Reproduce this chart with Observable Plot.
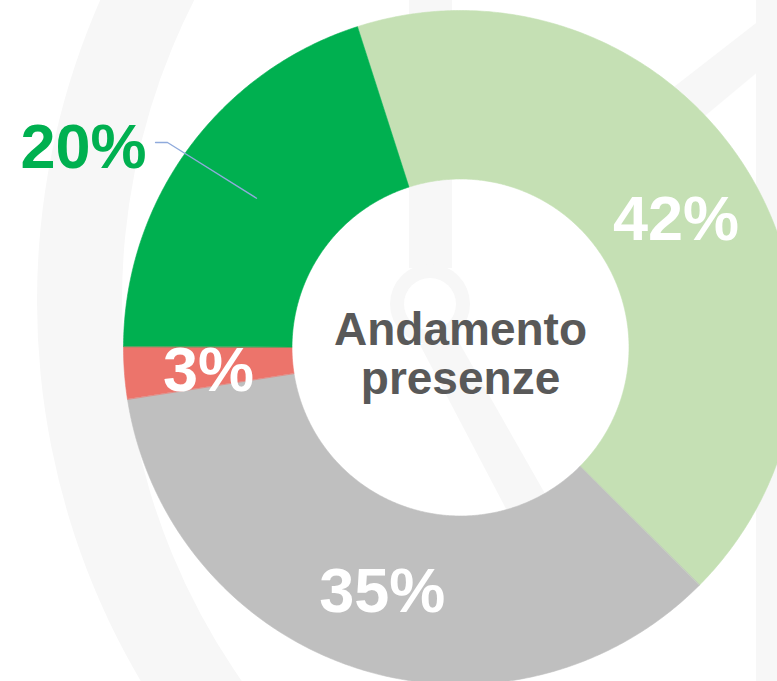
<!DOCTYPE html>
<html>
<head>
<meta charset="utf-8">
<script src="https://cdn.jsdelivr.net/npm/d3@7"></script>
<script src="https://cdn.jsdelivr.net/npm/@observablehq/plot@0.6"></script>
<style>
  html, body { margin: 0; padding: 0; background: #ffffff; }
  #chart { width: 777px; height: 681px; overflow: hidden; }
</style>
</head>
<body>
<div id="chart"></div>
<script>
// ---- data ----
const categories = ["Categoria 1", "Categoria 2", "Categoria 3", "Categoria 4"];
const values = [42.4, 35.1, 2.5, 20.0];
const labels = ["42%", "35%", "3%", "20%"];
const colors = ["#c5e0b4", "#bfbfbf", "#ec746b", "#00b050"];
const centerTitle = ["Andamento", "presenze"];

// ---- layout ----
const W = 777, H = 681;
const CX = 460, CY = 347, R = 337;   // donut centre / outer radius in px
const INNER = 0.5;                   // hole ratio
const START = -17.8 * Math.PI / 180; // first slice start angle (clockwise from top)
const LABEL_R = 0.75;
const FONT = "'Liberation Sans', Arial, Helvetica, sans-serif";

const total = d3.sum(values);
let acc = START;
const slices = values.map((v, i) => {
  const a0 = acc, a1 = acc + v / total * 2 * Math.PI;
  acc = a1;
  return {i, name: categories[i], value: v, label: labels[i], color: colors[i], a0, a1, mid: (a0 + a1) / 2};
});

function ringPoints(s) {
  const n = Math.max(6, Math.ceil((s.a1 - s.a0) / (Math.PI / 360)));
  const pts = [];
  for (let k = 0; k <= n; k++) {
    const a = s.a0 + (s.a1 - s.a0) * k / n;
    pts.push({x: Math.sin(a), y: -Math.cos(a)});
  }
  for (let k = n; k >= 0; k--) {
    const a = s.a0 + (s.a1 - s.a0) * k / n;
    pts.push({x: INNER * Math.sin(a), y: -INNER * Math.cos(a)});
  }
  return pts;
}

const polar = (r, a) => ({x: r * Math.sin(a), y: -r * Math.cos(a)});

// outside label for the green slice (index 3) with leader line
const outer = slices[3];
const leaderStart = polar(LABEL_R, outer.mid);
const labelAnchor = {x: (155 - CX) / R, y: (142 - CY) / R};
const elbow = {x: labelAnchor.x + 12 / R, y: labelAnchor.y};
const leader = [leaderStart, elbow, labelAnchor];

const inside = slices.filter(s => s.i !== 3).map(s => ({...s, ...polar(LABEL_R, s.mid)}));

const plot = Plot.plot({
  width: W,
  height: H,
  margin: 0,
  style: {background: "transparent", overflow: "visible"},
  x: {domain: [-CX / R, (W - CX) / R], range: [0, W], axis: null},
  y: {domain: [-CY / R, (H - CY) / R], range: [0, H], axis: null},
  marks: [
    ...slices.map(s => Plot.line(ringPoints(s), {
      x: "x", y: "y", curve: "linear-closed",
      fill: s.color, stroke: s.color, strokeWidth: 0.6
    })),
    Plot.line(leader, {x: "x", y: "y", stroke: "#8faadc", strokeWidth: 1.3}),
    Plot.text(inside, {
      x: "x", y: "y", text: "label", fill: "white",
      fontSize: 63, fontWeight: "bold", fontFamily: FONT, dy: 4
    }),
    Plot.text([outer], {
      x: () => labelAnchor.x, y: () => labelAnchor.y, text: "label",
      fill: colors[3], fontSize: 63, fontWeight: "bold", fontFamily: FONT,
      textAnchor: "end", dx: -9, dy: 5
    }),
    Plot.text([centerTitle.join("\n")], {
      x: () => 0, y: () => 0, text: d => d, fill: "#595959",
      fontSize: 46, fontWeight: "bold", fontFamily: FONT, lineHeight: 1.065, dy: 6
    })
  ]
});

// faint background watermark (decoration behind the chart)
const svg = d3.select(plot);
const wm = svg.insert("g", ":first-child").attr("fill", "#f7f7f7");
wm.append("path")
  .attr("fill-rule", "evenodd")
  .attr("d", d3.arc()({innerRadius: 663, outerRadius: 748, startAngle: 0, endAngle: 2 * Math.PI}))
  .attr("transform", "translate(785,301)");
wm.append("rect").attr("x", 409).attr("y", 0).attr("width", 43).attr("height", 268);
wm.append("path")
  .attr("fill-rule", "evenodd")
  .attr("d", d3.arc()({innerRadius: 26, outerRadius: 40, startAngle: 0, endAngle: 2 * Math.PI}))
  .attr("transform", "translate(430,304)");
wm.append("path").attr("d", "M420,345 L452,330 L560,520 L525,545 Z");
wm.append("rect").attr("x", 756).attr("y", 0).attr("width", 21).attr("height", 681);
wm.append("path").attr("d", "M670,90 L760,20 L760,70 L700,120 Z");

document.getElementById("chart").appendChild(plot);
</script>
</body>
</html>
